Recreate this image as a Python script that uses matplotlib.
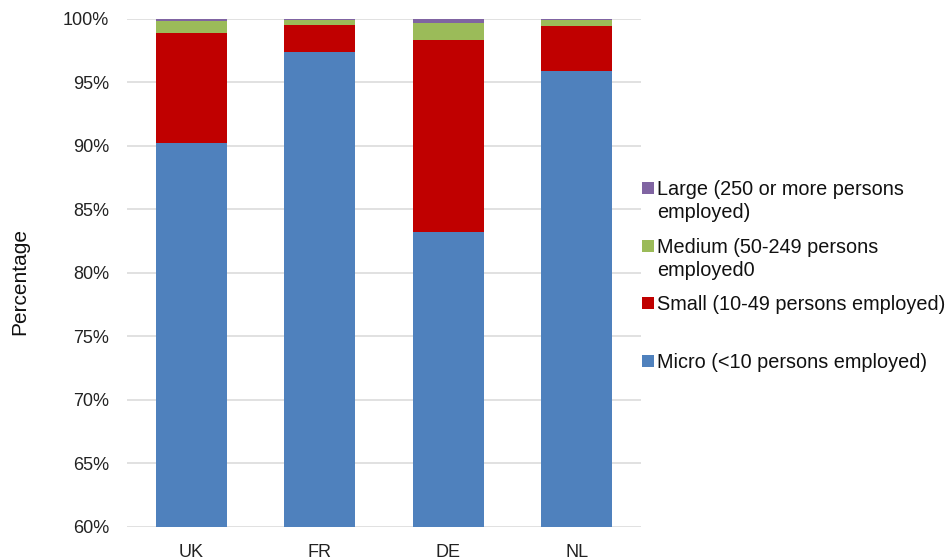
import matplotlib
matplotlib.use("Agg")
import matplotlib.pyplot as plt
from matplotlib.patches import Rectangle
from matplotlib.ticker import PercentFormatter

plt.rcParams['font.family'] = ['Liberation Sans', 'DejaVu Sans']

countries = ["UK", "FR", "DE", "NL"]
micro = [90.2, 97.4, 83.2, 95.9]
small = [8.7, 2.1, 15.1, 3.5]
medium = [0.9, 0.4, 1.4, 0.5]
large = [0.2, 0.1, 0.3, 0.1]

series_labels = [
    "Micro (<10 persons employed)",
    "Small (10-49 persons employed)",
    "Medium (50-249 persons\nemployed0",
    "Large (250 or more persons\nemployed)",
]
colors = ["#4F81BD", "#C00000", "#9BBB59", "#8064A2"]

fig = plt.figure(figsize=(9.47, 5.6), dpi=100)
ax = fig.add_axes([127 / 947, 1 - 527 / 560, 514 / 947, (527 - 18.7) / 560])

x = list(range(len(countries)))
bottom = [0.0] * len(countries)
for vals, col in zip([micro, small, medium, large], colors):
    ax.bar(x, vals, bottom=bottom, width=0.55, color=col, zorder=3)
    bottom = [b + v for b, v in zip(bottom, vals)]

ax.set_ylim(60, 100)
ax.set_xlim(-0.5, len(countries) - 0.5)
ax.set_yticks(range(60, 101, 5))
ax.yaxis.set_major_formatter(PercentFormatter(decimals=0))
ax.set_xticks(x)
ax.set_xticklabels(countries)
ax.grid(axis="y", color="#D9D9D9", linewidth=1.1, zorder=0)
for s in ax.spines.values():
    s.set_visible(False)
ax.tick_params(axis="y", length=0, pad=13, labelsize=13, labelcolor="#222222")
ax.tick_params(axis="x", length=0, pad=12, labelsize=13, labelcolor="#222222")
ax.set_ylabel("Percentage", fontsize=15, color="#111111")
ax.yaxis.set_label_coords(-0.19, 0.482)

# legend drawn in figure pixels, top entry first
entries = list(zip(series_labels, colors))[::-1]
ys = [189, 247, 304, 362]
for (lab, col), yp in zip(entries, ys):
    fig.patches.append(Rectangle((642 / 947, 1 - (yp + 5) / 560), 12 / 947, 12 / 560,
                                 transform=fig.transFigure, facecolor=col, edgecolor="none"))
    fig.text(657 / 947, 1 - (yp - 9) / 560, lab, fontsize=14.3, color="#111111",
             va="top", ha="left", linespacing=1.28)

fig.savefig("out.png", dpi=100)
